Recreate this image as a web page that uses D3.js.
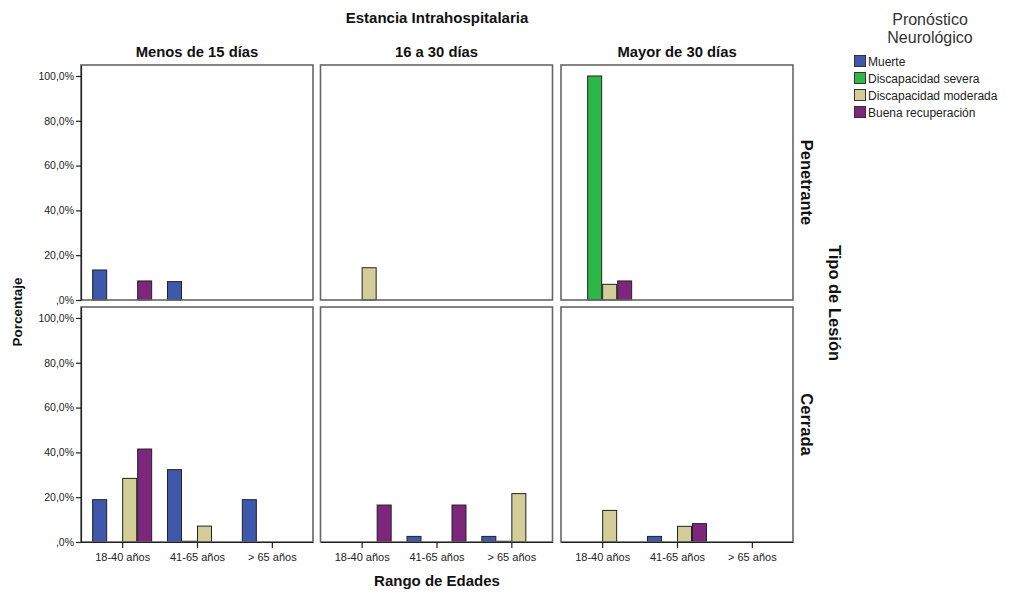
<!DOCTYPE html>
<html>
<head>
<meta charset="utf-8">
<script src="https://cdn.jsdelivr.net/npm/d3@7"></script>
<style>
  body { margin: 0; background: #fff; }
  text { font-family: "Liberation Sans", Arial, sans-serif; }
</style>
</head>
<body>
<svg id="chart" width="1009" height="592"></svg>
<script>
// ---- data ----
const ageGroups = ["18-40 años", "41-65 años", "> 65 años"];
const stayGroups = ["Menos de 15 días", "16 a 30 días", "Mayor de 30 días"];
const injuryTypes = ["Penetrante", "Cerrada"];
const outcomes = ["Muerte", "Discapacidad severa", "Discapacidad moderada", "Buena recuperación"];
const outcomeColors = ["#3e58ac", "#2eb848", "#d3ce97", "#7e267c"];
const yTicks = [0, 20, 40, 60, 80, 100];

// values per panel: [age group][outcome]; null = no bar, 0 = zero-height bar
const penetranteMenos15 = [[13.4, null, null, 8.5], [8.2, null, null, null], [null, null, null, null]];
const penetrante16a30   = [[null, null, 14.4, null], [null, null, null, null], [null, null, null, null]];
const penetranteMayor30 = [[null, 100, 7.0, 8.5], [null, null, null, null], [null, null, null, null]];
const cerradaMenos15    = [[18.9, null, 28.4, 41.5], [32.3, 0, 7.1, null], [18.9, null, null, null]];
const cerrada16a30      = [[null, null, null, 16.5], [2.5, null, null, 16.5], [2.5, 0, 21.6, null]];
const cerradaMayor30    = [[null, null, 14.1, null], [2.5, null, 7.0, 8.2], [null, null, null, null]];

const panels = [
  [penetranteMenos15, penetrante16a30, penetranteMayor30],
  [cerradaMenos15, cerrada16a30, cerradaMayor30]
];

// ---- layout ----
const svg = d3.select("#chart");
const colX = [81, 320.5, 561];
const rowY = [65, 307];
const pw = 232, ph = 235;

const x = d3.scalePoint().domain(ageGroups).range([0, pw]).padding(0.55);
const xs = d3.scaleBand().domain(outcomes).range([-30, 30]);
const y = d3.scaleLinear().domain([0, 104.9]).range([ph, 0]);
const fmt = d => (d === 0 ? ",0%" : d3.format(".1f")(d).replace(".", ",") + "%");

panels.forEach((row, ri) => {
  row.forEach((data, ci) => {
    const g = svg.append("g").attr("transform", `translate(${colX[ci]},${rowY[ri]})`);
    // bars
    data.forEach((vals, ai) => {
      vals.forEach((v, oi) => {
        if (v === null) return;
        const bx = x(ageGroups[ai]) + xs(outcomes[oi]);
        if (v === 0) {
          g.append("line").attr("x1", bx).attr("x2", bx + xs.bandwidth())
            .attr("y1", y(0) - 0.5).attr("y2", y(0) - 0.5)
            .attr("stroke", "#111").attr("stroke-width", 1.5);
        } else {
          g.append("rect").attr("x", bx + 0.5).attr("y", y(v))
            .attr("width", xs.bandwidth() - 1).attr("height", y(0) - y(v))
            .attr("fill", outcomeColors[oi]).attr("stroke", "#222").attr("stroke-width", 1);
        }
      });
    });
    // frame
    g.append("rect").attr("x", 0).attr("y", 0).attr("width", pw).attr("height", ph)
      .attr("fill", "none").attr("stroke", "#666").attr("stroke-width", 1.6);

    // y axis on first column
    if (ci === 0) {
      const ya = g.append("g").call(d3.axisLeft(y).tickValues(yTicks).tickFormat(fmt)
        .tickSize(5).tickSizeOuter(0).tickPadding(2));
      ya.select(".domain").attr("stroke", "#222").attr("stroke-width", 1.2);
      ya.selectAll(".tick line").attr("stroke", "#222").attr("stroke-width", 1.2);
      ya.selectAll("text").attr("font-size", 10.5).attr("fill", "#222")
        .attr("font-family", "Liberation Sans, Arial, sans-serif");
    }
    // x axis on bottom row
    if (ri === 1) {
      const xa = g.append("g").attr("transform", `translate(0,${ph})`)
        .call(d3.axisBottom(x).tickSize(6).tickSizeOuter(0).tickPadding(5));
      xa.select(".domain").attr("stroke", "#222").attr("stroke-width", 1.2);
      xa.selectAll(".tick line").attr("stroke", "#222").attr("stroke-width", 1.2);
      xa.selectAll("text").attr("font-size", 11).attr("fill", "#222")
        .attr("font-family", "Liberation Sans, Arial, sans-serif");
    }
    // column headers
    if (ri === 0) {
      svg.append("text").attr("x", colX[ci] + pw / 2).attr("y", 57)
        .attr("text-anchor", "middle").attr("font-size", 14.8).attr("font-weight", "bold")
        .attr("fill", "#111").text(stayGroups[ci]);
    }
  });
  // row labels
  const cy = rowY[ri] + ph / 2;
  svg.append("text").attr("transform", `translate(801,${cy}) rotate(90)`)
    .attr("text-anchor", "middle").attr("font-size", 16.5).attr("font-weight", "bold")
    .attr("fill", "#111").text(injuryTypes[ri]);
});

// titles
svg.append("text").attr("x", 437).attr("y", 23).attr("text-anchor", "middle")
  .attr("font-size", 15).attr("font-weight", "bold").attr("fill", "#111")
  .text("Estancia Intrahospitalaria");
svg.append("text").attr("x", 437).attr("y", 586).attr("text-anchor", "middle")
  .attr("font-size", 15).attr("font-weight", "bold").attr("fill", "#111")
  .text("Rango de Edades");
svg.append("text").attr("transform", "translate(22,312) rotate(-90)")
  .attr("text-anchor", "middle").attr("font-size", 13.5).attr("font-weight", "bold")
  .attr("fill", "#111").text("Porcentaje");
svg.append("text").attr("transform", "translate(829,303) rotate(90)")
  .attr("text-anchor", "middle").attr("font-size", 16.5).attr("font-weight", "bold")
  .attr("fill", "#111").text("Tipo de Lesión");

// legend
const lg = svg.append("g");
lg.append("text").attr("x", 930).attr("y", 25).attr("text-anchor", "middle")
  .attr("font-size", 16).attr("fill", "#333").text("Pronóstico");
lg.append("text").attr("x", 930).attr("y", 43).attr("text-anchor", "middle")
  .attr("font-size", 16).attr("fill", "#333").text("Neurológico");
outcomes.forEach((o, i) => {
  const yy = 56 + i * 17;
  lg.append("rect").attr("x", 854.5).attr("y", yy - 0.5).attr("width", 11).attr("height", 11)
    .attr("fill", outcomeColors[i]).attr("stroke", "#333").attr("stroke-width", 1);
  lg.append("text").attr("x", 868).attr("y", yy + 10).attr("font-size", 12)
    .attr("fill", "#222").text(o);
});
</script>
</body>
</html>
